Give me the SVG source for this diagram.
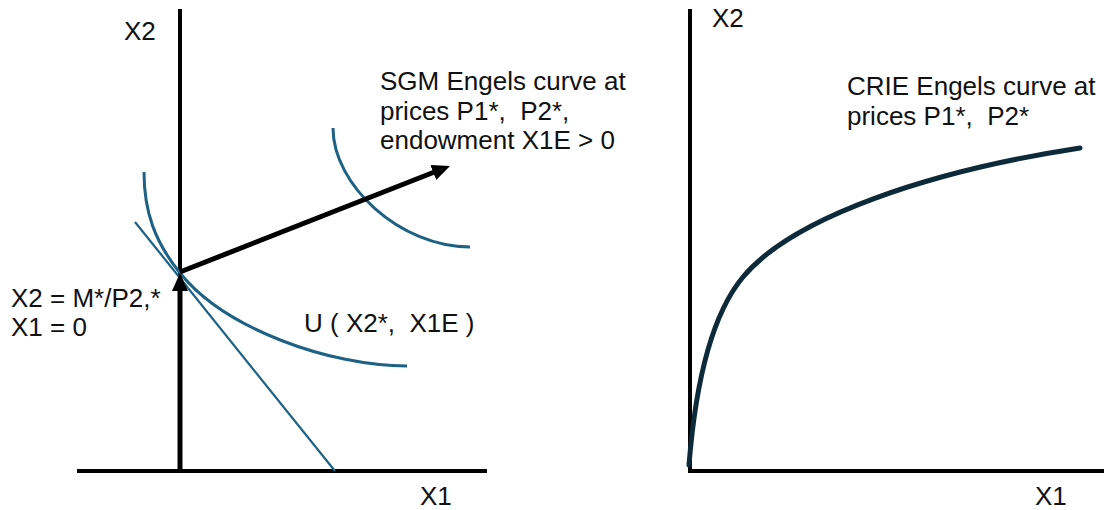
<svg xmlns="http://www.w3.org/2000/svg" width="1104" height="510" viewBox="0 0 1104 510">
  <style>
    .t { font-family: "Liberation Sans", Arial, sans-serif; font-size: 26px; fill: #111; white-space: pre; }
    .axis { stroke: #000; stroke-width: 4; fill: none; }
    .ic { stroke: #1d6185; stroke-width: 3; fill: none; }
    .budget { stroke: #1d6185; stroke-width: 2.2; fill: none; }
    .arrow { stroke: #000; stroke-width: 5; fill: none; }
    .engel { stroke: #0d2a3a; stroke-width: 5; fill: none; stroke-linecap: round; }
  </style>
  <defs>
    <marker id="head" markerUnits="userSpaceOnUse" markerWidth="18" markerHeight="16" viewBox="0 0 18 16" refX="4" refY="8" orient="auto">
      <path d="M0,0 L18,8 L0,16 z" fill="#000"/>
    </marker>
  </defs>

  <g id="left-axes">
    <line class="axis" x1="180" y1="9" x2="180" y2="471"/>
    <line class="axis" x1="77" y1="471" x2="487" y2="471"/>
    <text class="t" x="124" y="40">X2</text>
    <text class="t" x="420" y="505">X1</text>
  </g>

  <g id="indifference-low">
    <path class="ic" d="M144,172 C144,212 155,242 180,273 C225,329 330,366 407,366"/>
  </g>
  <g id="indifference-high">
    <path class="ic" d="M333,128 C333,185 400,247 470,247"/>
  </g>
  <g id="budget-line">
    <line class="budget" x1="135" y1="222" x2="335" y2="471"/>
  </g>

  <g id="connectors">
    <line class="arrow" x1="180" y1="471" x2="180" y2="287" marker-end="url(#head)"/>
    <line class="arrow" x1="180" y1="272" x2="437" y2="171" marker-end="url(#head)"/>
  </g>

  <g id="labels-left">
    <text class="t" x="380" y="90">SGM Engels curve at</text>
    <text class="t" x="380" y="119.5">prices P1*,  P2*,</text>
    <text class="t" x="380" y="149">endowment X1E &gt; 0</text>
    <text class="t" x="11" y="307">X2 = M*/P2,*</text>
    <text class="t" x="11" y="336">X1 = 0</text>
    <text class="t" x="304" y="332">U ( X2*,  X1E )</text>
  </g>

  <g id="right-axes">
    <line class="axis" x1="690" y1="9" x2="690" y2="473"/>
    <line class="axis" x1="688" y1="471" x2="1104" y2="471"/>
    <text class="t" x="712" y="27">X2</text>
    <text class="t" x="1035" y="505">X1</text>
  </g>

  <g id="crie-engel-curve">
    <path class="engel" d="M689,465 C696,377 713,313 743,277 C793,217 930,171 1080,148"/>
    <text class="t" x="847" y="95">CRIE Engels curve at</text>
    <text class="t" x="847" y="125">prices P1*,  P2*</text>
  </g>
</svg>
